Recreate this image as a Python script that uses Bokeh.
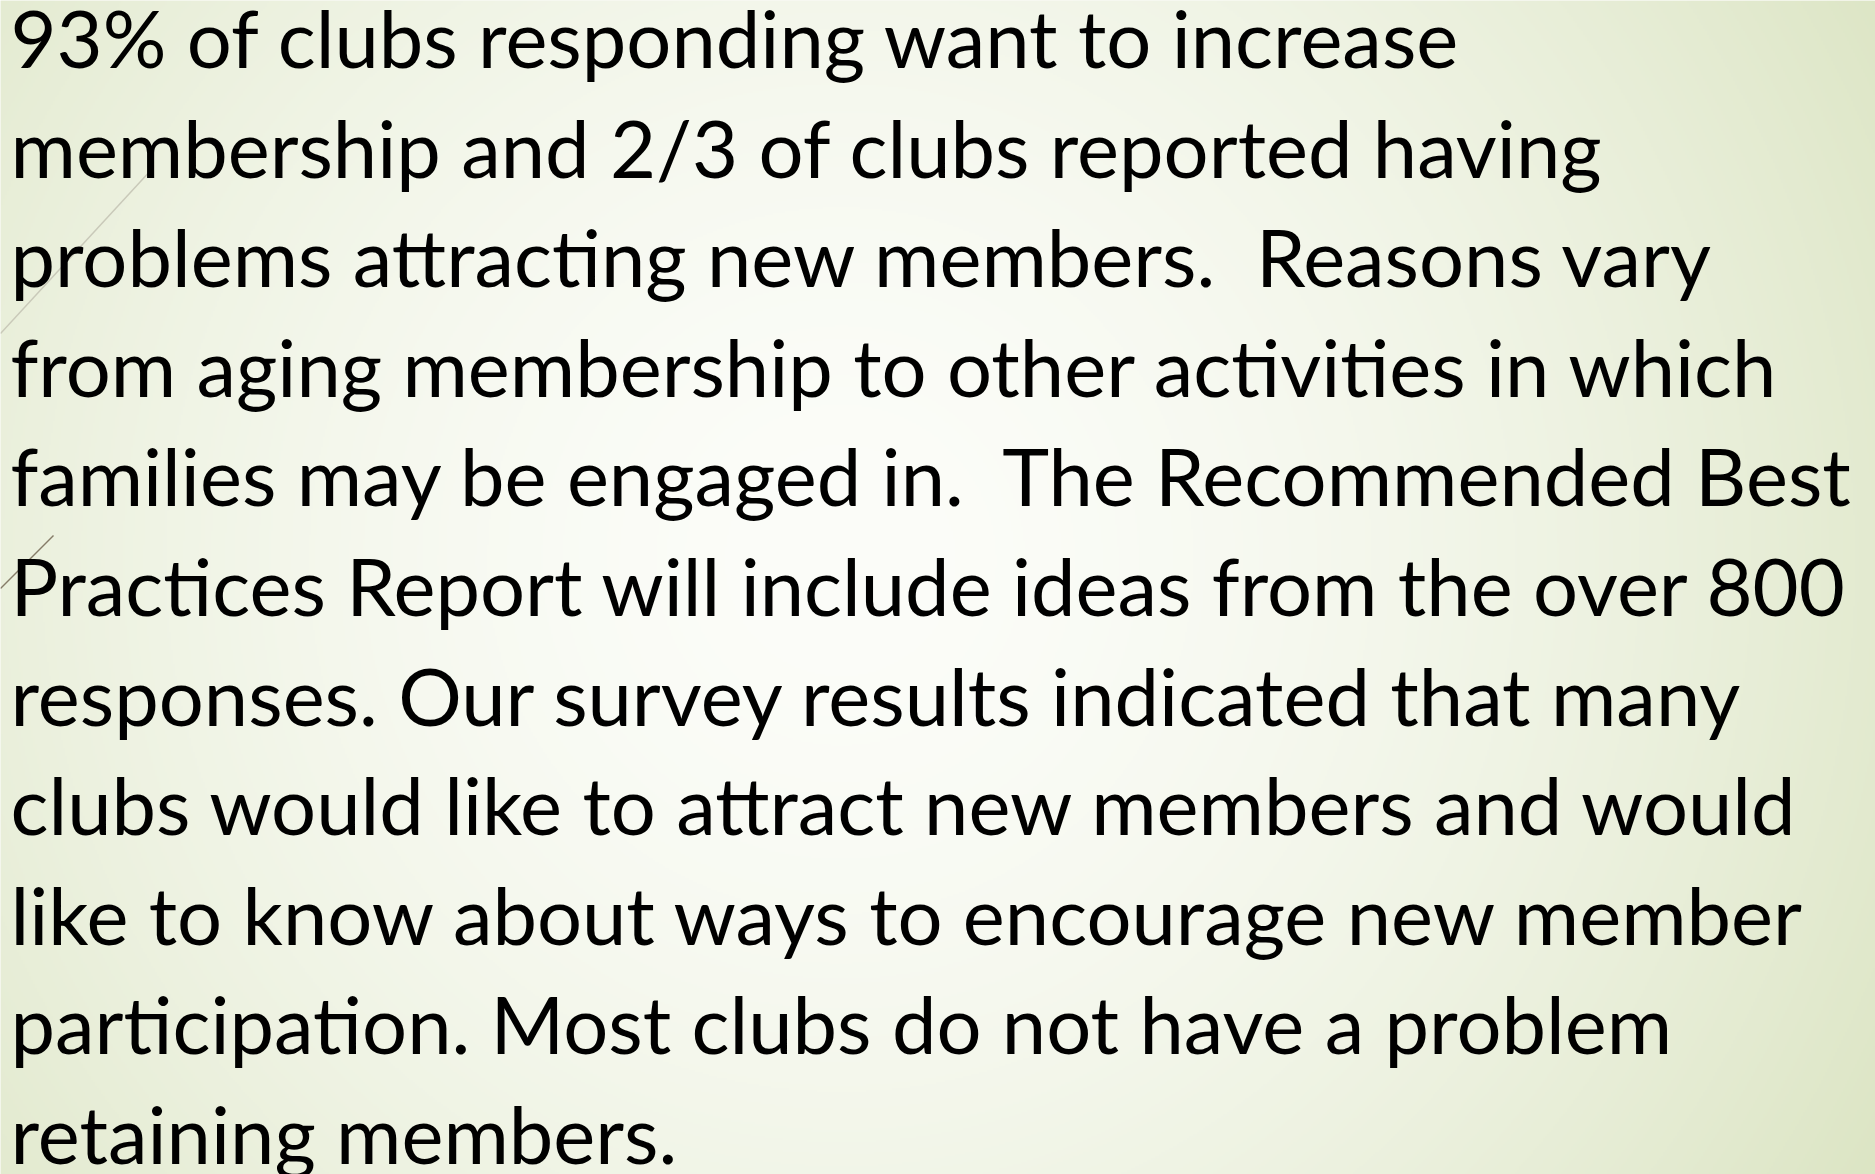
import numpy as np
from bokeh.plotting import figure
from bokeh.embed import file_html
from bokeh.resources import INLINE
from bokeh.core.properties import value

# ---- content -------------------------------------------------------------
text_lines = [
    "93% of clubs responding want to increase",
    "membership and 2/3 of clubs reported having",
    "problems attracting new members.\u00a0 Reasons vary",
    "from aging membership to other activities in which",
    "families may be engaged in.\u00a0 The Recommended Best",
    "Practices Report will include ideas from the over 800",
    "responses. Our survey results indicated that many",
    "clubs would like to attract new members and would",
    "like to know about ways to encourage new member",
    "participation. Most clubs do not have a problem",
    "retaining members.",
]

# ---- layout --------------------------------------------------------------
W, H = 1875, 1174
first_baseline = 67.0     # page px
line_step = 109.6
text_left = 10.0
font_px = 79.5
baseline_fix = 30.0       # empirical shift of bokeh's alphabetic baseline

def fy(py):
    return H - py

def fx(px):
    return px

p = figure(width=W, height=H, x_range=(0, W), y_range=(0, H),
           output_backend="svg", toolbar_location=None,
           min_border=0, min_border_left=0, min_border_right=0,
           min_border_top=0, min_border_bottom=0)
p.axis.visible = False
p.grid.visible = False
p.outline_line_color = None
p.background_fill_color = "#f3f6ea"
p.border_fill_color = "#f3f6ea"

# ---- radial gradient background -----------------------------------------
nx, ny = 938, 587
xs = np.linspace(0, W, nx)
ys = np.linspace(0, H, ny)  # figure y, bottom -> top
pys = H - ys
X, Y = np.meshgrid(xs, pys)
cx, cy = 840.0, 560.0
R = np.hypot(W - cx, H - cy)
t = np.clip(np.hypot(X - cx, Y - cy) / R, 0, 1) ** 1.7
c0 = np.array([0xfc, 0xfd, 0xf9], dtype=float)
c1 = np.array([0xdc, 0xe5, 0xc4], dtype=float)
rgb = c0[None, None, :] + (c1 - c0)[None, None, :] * t[..., None]
img = np.empty((ny, nx), dtype=np.uint32)
view = img.view(dtype=np.uint8).reshape((ny, nx, 4))
view[..., 0] = rgb[..., 0].astype(np.uint8)
view[..., 1] = rgb[..., 1].astype(np.uint8)
view[..., 2] = rgb[..., 2].astype(np.uint8)
view[..., 3] = 255
p.image_rgba(image=[img], x=0, y=0, dw=W, dh=H)

# ---- decorative thin lines ----------------------------------------------
p.line(x=[fx(152), fx(0)], y=[fy(168), fy(333)], line_color="#c9c9b9", line_width=1.5)
p.line(x=[fx(53), fx(0)], y=[fy(535), fy(588)], line_color="#857c68", line_width=1.5)

# ---- text ----------------------------------------------------------------
ys_text = [fy(first_baseline + i * line_step) + baseline_fix for i in range(len(text_lines))]
xs_text = [fx(text_left)] * len(text_lines)
p.text(x=xs_text, y=ys_text, text=text_lines,
       text_font=value("Lato"), text_font_size=f"{font_px}px",
       text_color="black", text_baseline="alphabetic", text_align="left")

open("out.html", "w").write(file_html(p, INLINE))
